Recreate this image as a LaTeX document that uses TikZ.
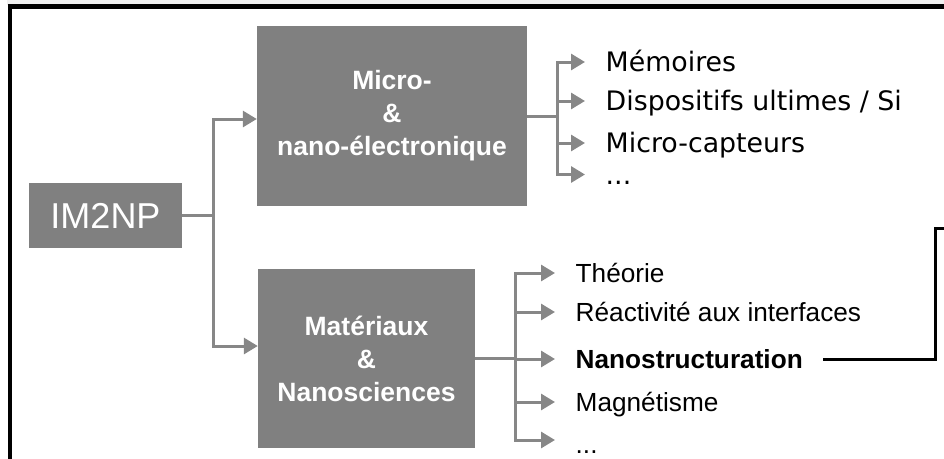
\documentclass[tikz,border=0pt]{standalone}
\usepackage{fontspec}
\setmainfont{Liberation Sans}
\newfontfamily\verd{DejaVu Sans}
\usetikzlibrary{arrows.meta}
\definecolor{boxgray}{HTML}{808080}
\definecolor{linegray}{HTML}{878787}
\begin{document}
\begin{tikzpicture}[x=1pt,y=1pt,
  box/.style={fill=boxgray, inner sep=0pt, align=center, text=white,
    font=\bfseries\fontsize{26.5}{33}\selectfont},
  conn/.style={draw=linegray, line width=3pt},
  arr/.style={conn, -{Triangle[length=14pt,width=16pt]}},
  item/.style={anchor=west, inner xsep=20.5pt, inner ysep=0pt,
    text height=25pt, text depth=6pt, font=\verd\fontsize{26.8}{30}\selectfont},
  itemb/.style={item, font=\fontsize{26.2}{30}\selectfont},
  frame/.style={draw=black, line width=4.5pt},
  bracket/.style={draw=black, line width=3pt}]
\useasboundingbox (0,0) rectangle (944,-458);
\fill[gray!12] (7,0) rectangle (944,-4.5);
% frame
\coordinate (f1) at (946,-6.7);
\coordinate (f2) at (9.8,-6.7);
\coordinate (f3) at (9.8,-462);
\draw[frame] (f1) -- (f2) -- (f3);
% boxes
\node[box, minimum width=153pt, minimum height=65pt,
  font=\fontsize{36}{40}\selectfont] (im) at (105.5,-215.5) {IM2NP};
\node[box, minimum width=270pt, minimum height=180pt] (micro) at (392,-116)
  {Micro-\\\&\\nano-électronique};
\node[box, minimum width=217pt, minimum height=179pt] (mat) at (366.5,-358.5)
  {Matériaux\\\&\\Nanosciences};
% upper items
\node[item] (mem) at (585,-62) {Mémoires};
\node[item] (disp) at (585,-101) {Dispositifs ultimes / Si};
\node[item] (capt) at (585,-143) {Micro-capteurs};
\node[item] (dotsa) at (585,-174.5) {...};
% lower items
\node[itemb] (theo) at (555,-273) {Théorie};
\node[itemb] (react) at (555,-312) {Réactivité aux interfaces};
\node[itemb, font=\bfseries\fontsize{26.2}{30}\selectfont] (nano) at (555,-359) {Nanostructuration};
\node[itemb] (magn) at (555,-402) {Magnétisme};
\node[itemb] (dotsb) at (555,-444) {...};
% connectors from IM2NP
\coordinate (j1) at (213,-215.5);
\draw[conn] (im.east) -- (j1);
\draw[arr] (j1) |- ([yshift=-3pt]micro.west);
\draw[arr] (j1) |- ([yshift=12.5pt]mat.west);
% upper branch
\coordinate (j2) at (557,-116);
\draw[conn] (micro.east) -- (j2);
\draw[arr] (j2) |- (mem.west);
\draw[arr] (j2) |- (disp.west);
\draw[arr] (j2) |- (capt.west);
\draw[arr] (j2) |- (dotsa.west);
% lower branch
\coordinate (j3) at (515,-358.5);
\draw[conn] (mat.east) -- (j3);
\draw[arr] (j3) |- (theo.west);
\draw[arr] (j3) |- (react.west);
\draw[arr] (j3) |- (nano.west);
\draw[arr] (j3) |- (magn.west);
\draw[arr] (j3) |- ([yshift=4pt]dotsb.west);
% black bracket
\coordinate (bk) at (935,-228);
\coordinate (bkend) at (946,-228);
\draw[bracket] (nano.east) -| (bk) -- (bkend);
\end{tikzpicture}
\end{document}
